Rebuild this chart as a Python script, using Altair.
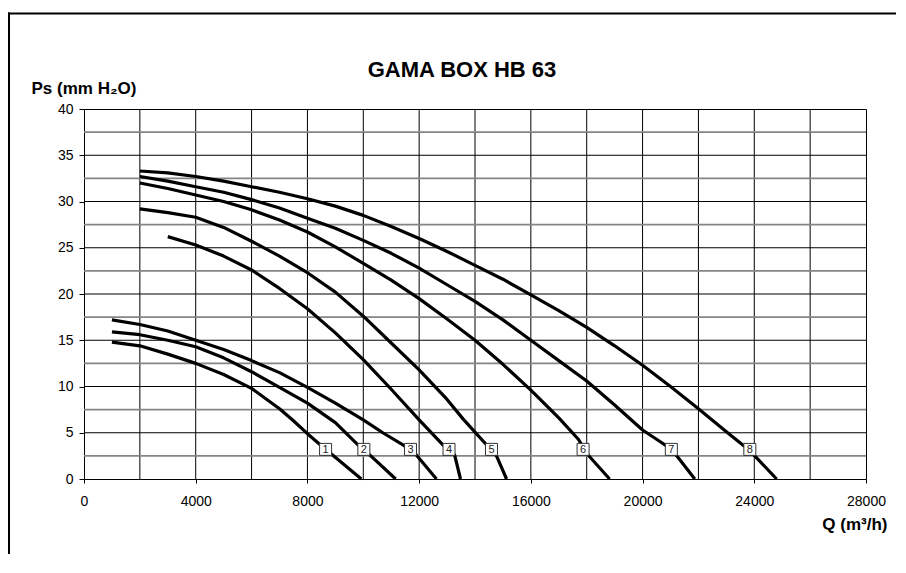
import altair as alt
import pandas as pd

FONT = "Liberation Sans"

title_text = "GAMA BOX HB 63"
x_title = "Q (m³/h)"
y_title = "Ps (mm H₂O)"

x_ticks = [0, 4000, 8000, 12000, 16000, 20000, 24000, 28000]
y_ticks = [0, 5, 10, 15, 20, 25, 30, 35, 40]
x_grid = [2000, 4000, 6000, 8000, 10000, 12000, 14000, 16000, 18000, 20000, 22000, 24000, 26000]
y_grid_major = [5, 10, 15, 20, 25, 30, 35]
y_grid_minor = [2.5, 7.5, 12.5, 17.5, 22.5, 27.5, 32.5, 37.5]

# fan curves (Q in m3/h, Ps in mm H2O)
q1 = [1000, 2000, 3000, 4000, 5000, 6000, 7000, 7500, 8000, 8500, 8900, 9930]
p1 = [14.8, 14.4, 13.5, 12.5, 11.3, 9.8, 7.6, 6.3, 4.9, 3.6, 2.6, 0.0]

q2 = [1000, 2000, 3000, 4000, 5000, 6000, 7000, 8000, 9000, 9810, 10230, 11160]
p2 = [15.9, 15.6, 15.0, 14.3, 13.1, 11.6, 9.9, 8.2, 6.1, 3.7, 2.6, 0.0]

q3 = [1000, 2000, 3000, 4000, 5000, 6000, 7000, 8000, 9000, 10000, 10700, 11420, 11900, 12620]
p3 = [17.2, 16.7, 16.0, 15.0, 14.0, 12.8, 11.5, 9.9, 8.2, 6.4, 5.0, 3.7, 2.6, 0.0]

q4 = [3000, 4000, 5000, 6000, 7000, 8000, 9000, 10000, 11000, 12000, 12850, 13270, 13480]
p4 = [26.2, 25.3, 24.1, 22.6, 20.6, 18.4, 15.8, 12.9, 9.7, 6.4, 3.7, 2.6, 0.0]

q5 = [2000, 3000, 4000, 5000, 6000, 7000, 8000, 9000, 10000, 11000, 12000, 13000, 13570, 14410, 14770, 15130]
p5 = [29.2, 28.8, 28.3, 27.2, 25.7, 24.1, 22.3, 20.2, 17.6, 14.7, 11.8, 8.6, 6.5, 3.7, 2.5, 0.0]

q6 = [2000, 3000, 4000, 5000, 6000, 7000, 8000, 9000, 10000, 11000, 12000, 13000, 14000, 15000, 16000, 17000, 17700, 18050, 18820]
p6 = [32.0, 31.4, 30.7, 30.0, 29.1, 28.0, 26.7, 25.1, 23.3, 21.5, 19.5, 17.3, 15.0, 12.4, 9.6, 6.6, 4.3, 2.6, 0.0]

q7 = [2000, 3000, 4000, 5000, 6000, 7000, 8000, 9000, 10000, 11000, 12000, 13000, 14000, 15000, 16000, 17000, 18000, 19000, 20000, 20500, 20950, 21250, 21870]
p7 = [32.7, 32.2, 31.6, 31.0, 30.2, 29.3, 28.2, 27.1, 25.8, 24.4, 22.8, 21.0, 19.2, 17.2, 15.0, 12.8, 10.6, 8.0, 5.3, 4.3, 3.4, 2.4, 0.0]

q8 = [2000, 3000, 4000, 5000, 6000, 7000, 8000, 9000, 10000, 11000, 12000, 13000, 14000, 15000, 16000, 17000, 18000, 19000, 20000, 21000, 22000, 23000, 23700, 24050, 24800]
p8 = [33.3, 33.1, 32.7, 32.2, 31.6, 31.0, 30.3, 29.5, 28.5, 27.3, 26.0, 24.6, 23.1, 21.6, 19.9, 18.2, 16.4, 14.4, 12.3, 10.0, 7.6, 5.1, 3.4, 2.4, 0.0]

curve_names = ["1", "2", "3", "4", "5", "6", "7", "8"]
label_q = [8650, 10020, 11690, 13070, 14590, 17870, 21030, 23840]
label_p = [3.2, 3.2, 3.2, 3.2, 3.2, 3.2, 3.2, 3.2]

# ---------------------------------------------------------------- tables
rows = []
for name, qs, ps in zip(curve_names, [q1, q2, q3, q4, q5, q6, q7, q8],
                        [p1, p2, p3, p4, p5, p6, p7, p8]):
    for i, (q, p) in enumerate(zip(qs, ps)):
        rows.append({"curve": name, "order": i, "q": q, "p": p})
curves_df = pd.DataFrame(rows)
labels_df = pd.DataFrame({"q": label_q, "p": label_p, "name": curve_names})
xgrid_df = pd.DataFrame({"q": x_grid})
ymaj_df = pd.DataFrame({"p": y_grid_major})
ymin_df = pd.DataFrame({"p": y_grid_minor})
one_df = pd.DataFrame({"a": [0]})

W, H = 782, 370
x_scale = alt.Scale(domain=[0, 28000], nice=False, zero=False)
y_scale = alt.Scale(domain=[0, 40], nice=False, zero=False)

x_axis = alt.Axis(
    values=x_ticks, format="d", grid=False, domain=False,
    tickSize=4, tickColor="black", tickWidth=1,
    labelFont=FONT, labelFontSize=14, labelColor="black", labelPadding=11,
    labelFlush=False,
    title=x_title, titleFont=FONT, titleFontSize=17, titleFontWeight="bold",
    titleColor="black", titleAlign="right", titleAnchor="end",
    titleX=803, titleY=50, titleBaseline="alphabetic",
)
y_axis = alt.Axis(
    values=y_ticks, grid=False, domain=False,
    tickSize=5, tickColor="black", tickWidth=1,
    labelFont=FONT, labelFontSize=14, labelColor="black", labelPadding=6,
    title=y_title, titleFont=FONT, titleFontSize=17, titleFontWeight="bold",
    titleColor="black", titleAngle=0, titleAlign="left", titleAnchor="start",
    titleX=-53, titleY=-16, titleBaseline="alphabetic",
)


def X(field="q:Q"):
    return alt.X(field, scale=x_scale, axis=x_axis)


def Y(field="p:Q"):
    return alt.Y(field, scale=y_scale, axis=y_axis)


vgrid = alt.Chart(xgrid_df).mark_rule(color="black", strokeWidth=1).encode(x=X())
ymin = alt.Chart(ymin_df).mark_rule(color="#858585", strokeWidth=1.6).encode(y=Y())
ymaj = alt.Chart(ymaj_df).mark_rule(color="black", strokeWidth=1).encode(y=Y())

lines = alt.Chart(curves_df).mark_line(
    color="black", strokeWidth=3.2, interpolate="linear",
    strokeCap="butt", strokeJoin="round"
).encode(
    x=X(), y=Y(),
    detail="curve:N",
    order="order:Q",
)

boxes = alt.Chart(labels_df).mark_square(
    size=144, fill="white", fillOpacity=1, stroke="#333333", strokeWidth=1, opacity=1
).encode(x=X(), y=Y())

box_text = alt.Chart(labels_df).mark_text(
    font=FONT, fontSize=11, color="#222222", align="center", baseline="middle", dy=0.5
).encode(x=X(), y=Y(), text="name:N")

# main title (text annotation above the plot)
title_mark = alt.Chart(one_df).mark_text(
    text=title_text, font=FONT, fontSize=22, fontWeight="bold", color="black",
    align="center", baseline="alphabetic"
).encode(x=alt.value(378), y=alt.value(-32))

# outer frame (top and left edges; the rest lies outside the window)
frame_top = alt.Chart(one_df).mark_rule(color="black", strokeWidth=2).encode(
    x=alt.value(-76), x2=alt.value(830), y=alt.value(-95.5)
)
frame_left = alt.Chart(one_df).mark_rule(color="black", strokeWidth=2).encode(
    x=alt.value(-75), y=alt.value(-96.5), y2=alt.value(460)
)

chart = alt.layer(
    vgrid, ymin, ymaj, lines, boxes, box_text, title_mark, frame_top, frame_left
).properties(
    width=W, height=H,
    autosize=alt.AutoSizeParams(type="none"),
    padding={"left": 76, "top": 101, "right": 30, "bottom": 75},
    background="white",
).configure_view(
    stroke="black", strokeWidth=1
)

chart.save("out.html", embed_options={"renderer": "svg", "actions": False})
